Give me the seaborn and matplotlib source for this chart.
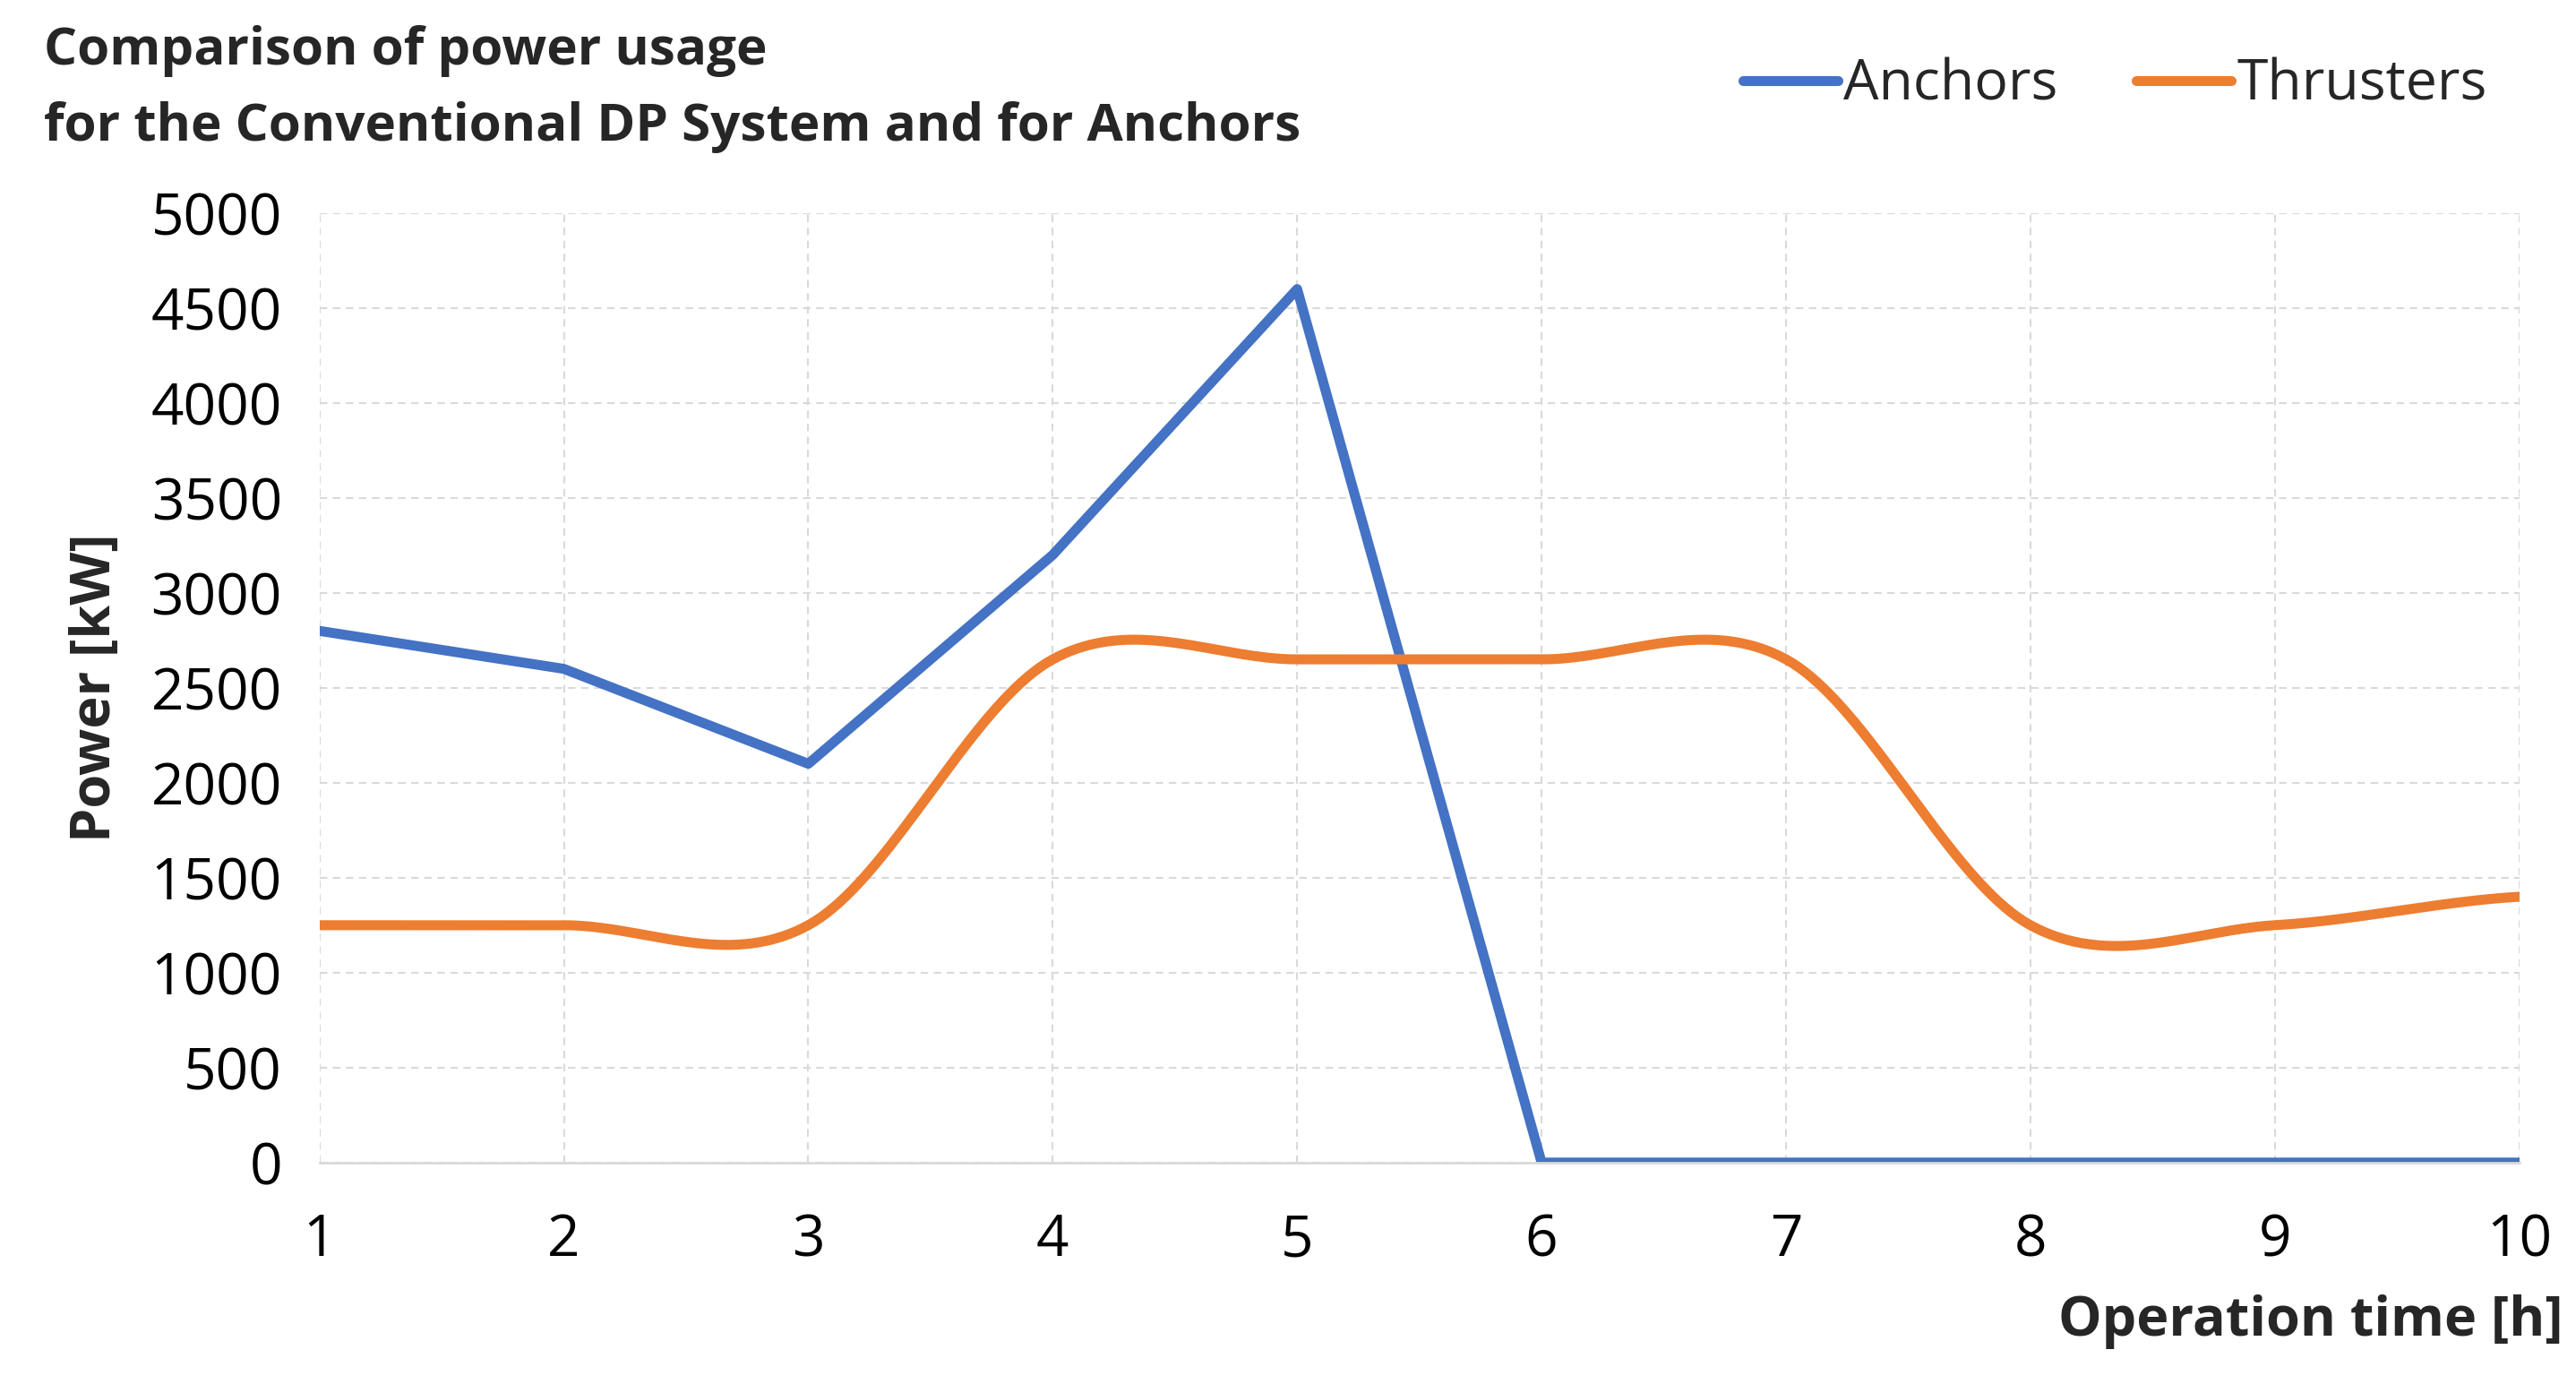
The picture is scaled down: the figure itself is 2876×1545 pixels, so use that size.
import numpy as np
import matplotlib
matplotlib.use("Agg")
import matplotlib.pyplot as plt
import seaborn as sns

hours = [1, 2, 3, 4, 5, 6, 7, 8, 9, 10]
anchors = [2800, 2600, 2100, 3200, 4600, 0, 0, 0, 0, 0]
thrusters = [1250, 1250, 1250, 2650, 2650, 2650, 2650, 1250, 1250, 1400]

BLUE = "#4472C4"
ORANGE = "#ED7D31"


def smooth(x, y, n=40):
    # Catmull-Rom style smoothing like Excel's "smoothed line"
    x = np.asarray(x, float)
    y = np.asarray(y, float)
    px = np.concatenate([[2 * x[0] - x[1]], x, [2 * x[-1] - x[-2]]])
    py = np.concatenate([[y[0]], y, [y[-1]]])
    xs, ys = [], []
    t = np.linspace(0, 1, n)
    for i in range(1, len(px) - 2):
        p0, p1, p2, p3 = py[i - 1], py[i], py[i + 1], py[i + 2]
        m1 = (p2 - p0) / 2
        m2 = (p3 - p1) / 2
        h00 = 2 * t**3 - 3 * t**2 + 1
        h10 = t**3 - 2 * t**2 + t
        h01 = -2 * t**3 + 3 * t**2
        h11 = t**3 - t**2
        ys.append(h00 * p1 + h10 * m1 + h01 * p2 + h11 * m2)
        xs.append(px[i] + t * (px[i + 1] - px[i]))
    return np.concatenate(xs), np.concatenate(ys)


sns.set_theme(style="white")
plt.rcParams["font.family"] = ["Open Sans", "DejaVu Sans"]

fig = plt.figure(figsize=(28.76, 15.45), dpi=100)
ax = fig.add_axes([0.124, 0.160, 0.854, 0.686])

sx, sy = smooth(hours, thrusters)
sns.lineplot(x=hours, y=anchors, ax=ax, color=BLUE, lw=8, label="Anchors")
sns.lineplot(x=sx, y=sy, ax=ax, color=ORANGE, lw=8, label="Thrusters", sort=False)

ax.set_xlim(1, 10)
ax.set_ylim(0, 5000)
ax.set_xticks(hours)
ax.set_yticks(range(0, 5001, 500))
ax.grid(True, color="#D9D9D9", linestyle=(0, (4, 3)), lw=1.5)
for s in ["top", "right", "left"]:
    ax.spines[s].set_visible(False)
ax.spines["bottom"].set_color("#D9D9D9")
ax.spines["bottom"].set_linewidth(2)
ax.tick_params(axis="both", labelsize=46, colors="#000000", length=0)
ax.tick_params(axis="x", pad=40)
ax.tick_params(axis="y", pad=30)

ax.set_ylabel("Power [kW]", fontsize=44, fontweight="bold", labelpad=22)
ax.set_xlabel("")
fig.text(0.995, 0.045, "Operation time [h]", fontsize=44, fontweight="bold", ha="right", va="center")
fig.text(0.017, 0.963, "Comparison of power usage", fontsize=42, fontweight="bold", ha="left", va="center")
fig.text(0.017, 0.908, "for the Conventional DP System and for Anchors", fontsize=42, fontweight="bold",
         ha="left", va="center")

ax.legend(loc="upper right", bbox_to_anchor=(0.985, 0.995), bbox_transform=fig.transFigure, ncol=2,
          frameon=False, fontsize=45, handlelength=1.7, handletextpad=0.1, columnspacing=1.4)

fig.savefig("out.png", dpi=100, facecolor="white")
